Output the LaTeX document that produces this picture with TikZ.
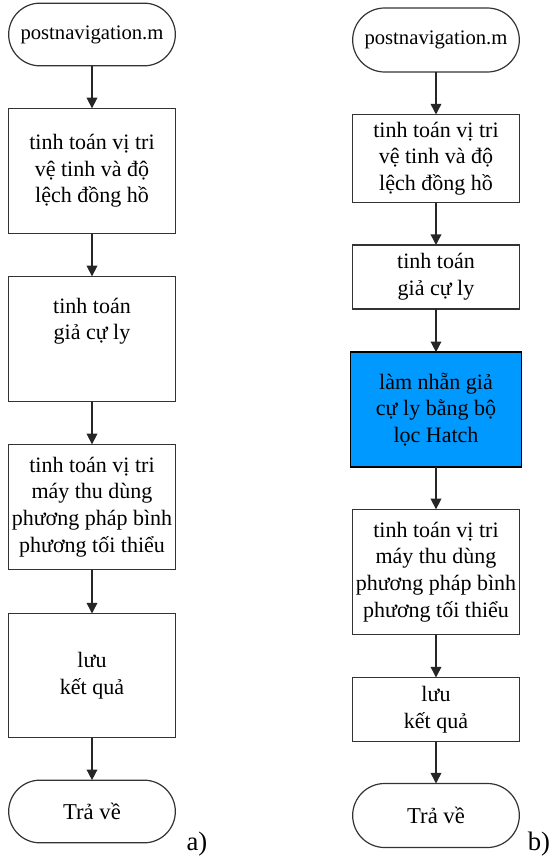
\documentclass[tikz,border=0pt]{standalone}
\usepackage{fontspec}
\setmainfont{Liberation Serif}
\usetikzlibrary{arrows.meta}
\definecolor{hatchblue}{RGB}{0,153,255}
\begin{document}
\begin{tikzpicture}[x=0.75pt,y=-0.75pt,
  every node/.style={inner sep=0pt,outer sep=0pt},
  stepbox/.style={draw=black!80,line width=1.2pt,minimum width=125pt,align=center,
     font=\fontsize{16.5}{20}\selectfont},
  termbox/.style={draw=black!80,line width=0.9pt,minimum width=125pt,minimum height=47pt,
     rounded corners=23.5pt,font=\fontsize{15.5}{19}\selectfont},
  flow/.style={draw=black!85,line width=1.1pt,-{Triangle[width=8pt,length=8pt]}},
  lbl/.style={font=\fontsize{20}{22}\selectfont}]
\useasboundingbox (0,0) rectangle (550,856);
% left chart a)
\node[termbox] (s1) at (92,34.5) {postnavigation.m};
\node[stepbox,minimum height=94pt] (b1) at (92,171) {tinh toán vị tri\\vệ tinh và độ\\lệch đồng hồ};
\node[stepbox,minimum height=94pt] (b2) at (92,339) {tinh toán\\giả cự ly\\[10pt]};
\node[stepbox,minimum height=94pt] (b3) at (92,507) {tinh toán vị tri\\máy thu dùng\\phương pháp bình\\phương tối thiểu};
\node[stepbox,minimum height=93pt] (b4) at (92,675.5) {lưu\\kết quả};
\node[termbox,font=\fontsize{17}{19}\selectfont] (e1) at (92,811.5) {Trả về};
\node[lbl] (la) at (197,844) {a)};
\draw[flow] (s1) -- (b1);
\draw[flow] (b1) -- (b2);
\draw[flow] (b2) -- (b3);
\draw[flow] (b3) -- (b4);
\draw[flow] (b4) -- (e1);
% right chart b)
\node[termbox,minimum height=48pt,rounded corners=24pt] (s2) at (436,40) {postnavigation.m};
\node[stepbox,minimum height=66pt] (c1) at (436,158.5) {tinh toán vị tri\\vệ tinh và độ\\lệch đồng hồ};
\node[stepbox,minimum height=48pt] (c2) at (436,277) {tinh toán\\giả cự ly};
\node[stepbox,fill=hatchblue,draw=black,minimum width=128pt,minimum height=86pt] (c3) at (436,409.5) {làm nhẵn giả\\cự ly bằng bộ\\lọc Hatch};
\node[stepbox,minimum height=94pt] (c4) at (436,572) {tinh toán vị tri\\máy thu dùng\\phương pháp bình\\phương tối thiểu};
\node[stepbox,minimum height=48pt] (c5) at (436,709.5) {lưu\\kết quả};
\node[termbox,minimum height=48pt,rounded corners=24pt,font=\fontsize{17}{19}\selectfont] (e2) at (436,815.5) {Trả về};
\node[lbl] (lb) at (539,844) {b)};
\draw[flow] (s2) -- (c1);
\draw[flow] (c1) -- (c2);
\draw[flow] (c2) -- (c3);
\draw[flow] (c3) -- (c4);
\draw[flow] (c4) -- (c5);
\draw[flow] (c5) -- (e2);
\end{tikzpicture}
\end{document}
